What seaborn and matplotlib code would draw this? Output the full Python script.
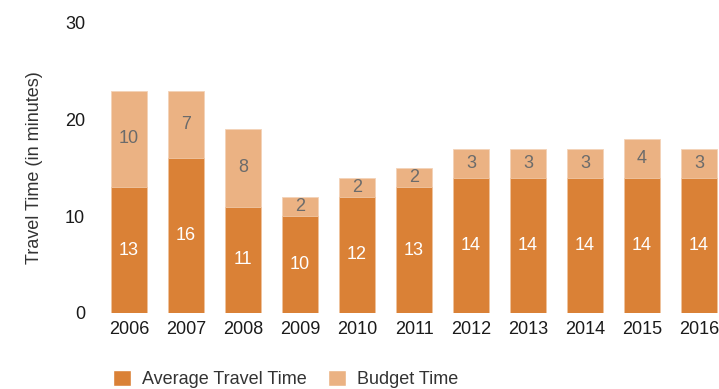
import pandas as pd
import matplotlib
matplotlib.use("Agg")
import matplotlib.pyplot as plt
import seaborn as sns
from matplotlib.patches import Patch

# Dati
years = ["2006", "2007", "2008", "2009", "2010", "2011", "2012", "2013", "2014", "2015", "2016"]
avg_time = [13, 16, 11, 10, 12, 13, 14, 14, 14, 14, 14]
budget_time = [10, 7, 8, 2, 2, 2, 3, 3, 3, 4, 3]

dark = "#DA8136"
light = "#EBB283"

sns.set_theme(style="white")
plt.rcParams["font.family"] = ["Liberation Sans", "DejaVu Sans"]

df = pd.DataFrame({"year": years, "avg": avg_time, "budget": budget_time})
df["total"] = df["avg"] + df["budget"]

fig = plt.figure(figsize=(7.19, 3.89), dpi=100)
ax = fig.add_axes([0.1398, 0.1954, 0.8602, 0.7455])

# barre impilate: prima il totale (chiaro), poi la media (scuro)
sns.barplot(data=df, x="year", y="total", color=light, width=0.64, saturation=1,
            edgecolor="#f3d3b8", linewidth=0.6, ax=ax)
sns.barplot(data=df, x="year", y="avg", color=dark, width=0.64, saturation=1,
            edgecolor="#f0c7a4", linewidth=0.6, ax=ax)

for i, row in df.iterrows():
    ax.text(i, row["avg"] / 2, str(row["avg"]), ha="center", va="center",
            color="white", fontsize=13)
    ax.text(i, row["avg"] + row["budget"] / 2, str(row["budget"]), ha="center", va="center",
            color="#6b6b6b", fontsize=13)

ax.set_ylim(0, 30)
ax.set_xlim(-0.5, 10.35)
ax.set_yticks([0, 10, 20, 30])
ax.tick_params(axis="both", length=0, labelsize=13, colors="#1a1a1a")
ax.tick_params(axis="y", pad=11)
ax.tick_params(axis="x", pad=6)
ax.set_xlabel("")
ax.set_ylabel("Travel Time (in minutes)", fontsize=13, color="#333333")
ax.yaxis.set_label_coords(-0.093, 0.5)
sns.despine(ax=ax, left=True, bottom=True)

handles = [Patch(facecolor=dark, label="Average Travel Time"),
           Patch(facecolor=light, label="Budget Time")]
leg = fig.legend(handles=handles, loc="center left", bbox_to_anchor=(113 / 719, 1 - 379 / 389),
                 ncol=2, frameon=False, fontsize=13, handlelength=1.0, handleheight=1.0,
                 handletextpad=0.6, columnspacing=1.2, borderpad=0, borderaxespad=0)
for t in leg.get_texts():
    t.set_color("#333333")

plt.savefig("out.png", dpi=100)
